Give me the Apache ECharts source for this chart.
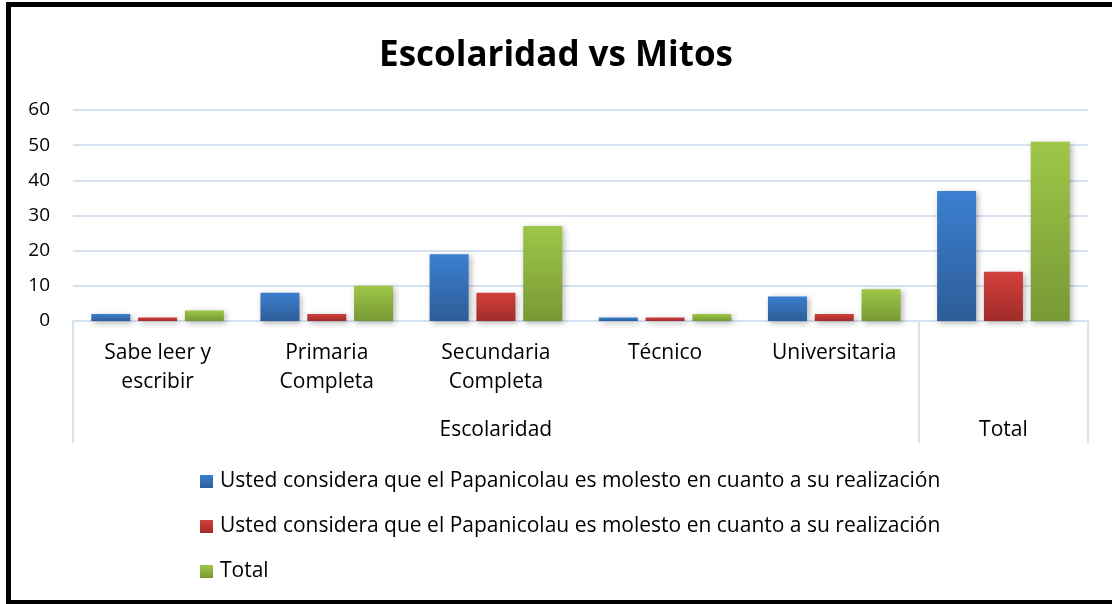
<!DOCTYPE html>
<html>
<head>
<meta charset="utf-8">
<script src="https://cdn.jsdelivr.net/npm/echarts@6/dist/echarts.min.js"></script>
<style>
  html, body { margin: 0; padding: 0; background: #fff; }
  #chart { width: 1112px; height: 604px; }
  .frame {
    position: absolute;
    left: 6px;
    top: 2px;
    width: 1130px;
    height: 602px;
    box-sizing: border-box;
    border: 5px solid #000;
    border-bottom-width: 4px;
    pointer-events: none;
  }
</style>
</head>
<body>
<div id="chart"></div>
<div class="frame"></div>
<script>
// datos
const categories = ['Sabe leer y\nescribir', 'Primaria\nCompleta', 'Secundaria\nCompleta', 'Técnico', 'Universitaria', '']
const groupLabels = ['', '', 'Escolaridad', '', '', 'Total']
const seriesNames = [
  'Usted considera que el Papanicolau es molesto en cuanto a su realización',
  'Usted considera que el Papanicolau es molesto en cuanto a su realización ', // espacio final: evita que la leyenda junte las dos series
  'Total'
]
const blueValues = [2, 8, 19, 1, 7, 37]
const redValues = [1, 2, 8, 1, 2, 14]
const greenValues = [3, 10, 27, 2, 9, 51]
const yTicks = [0, 10, 20, 30, 40, 50, 60]

const FONT = 'Open Sans'
const lineColor = '#d6e2f1'

function grad(top, bottom) {
  return new echarts.graphic.LinearGradient(0, 0, 0, 1, [
    { offset: 0, color: top },
    { offset: 1, color: bottom }
  ])
}

function barSeries(name, values, top, bottom) {
  return {
    name: name,
    type: 'bar',
    xAxisIndex: 0,
    barWidth: 39,
    barGap: '20%',
    data: values,
    itemStyle: {
      color: grad(top, bottom),
      shadowBlur: 6,
      shadowColor: 'rgba(0,0,0,0.3)',
      shadowOffsetX: 2,
      shadowOffsetY: 2
    }
  }
}

const chart = echarts.init(document.getElementById('chart'))
chart.setOption({
  animation: false,
  textStyle: { fontFamily: FONT },
  title: {
    text: 'Escolaridad vs Mitos',
    left: 'center',
    top: 31,
    textStyle: { fontFamily: FONT, fontSize: 35, fontWeight: 'bold', color: '#000', lineHeight: 40 }
  },
  legend: {
    orient: 'vertical',
    left: 200,
    top: 470,
    padding: 0,
    itemGap: 22,
    itemWidth: 13,
    itemHeight: 13,
    icon: 'rect',
    data: seriesNames,
    textStyle: { fontFamily: FONT, fontSize: 21, color: '#000', lineHeight: 23, padding: [0, 0, 0, 2] }
  },
  grid: { left: 73, right: 24, top: 110, bottom: 283, containLabel: false },
  xAxis: [
    {
      type: 'category',
      data: categories,
      axisLine: { lineStyle: { color: lineColor, width: 2 } },
      axisTick: {
        show: true,
        length: 122,
        interval: function (i) { return i === 0 || i === 5 },
        lineStyle: { color: lineColor, width: 2 }
      },
      axisLabel: { interval: 0, fontFamily: FONT, fontSize: 21, lineHeight: 29, color: '#000', margin: 18 }
    },
    {
      type: 'category',
      position: 'bottom',
      data: groupLabels,
      axisLine: { show: false },
      axisTick: { show: false },
      axisLabel: { interval: 0, fontFamily: FONT, fontSize: 21, lineHeight: 29, color: '#000', margin: 95 }
    }
  ],
  yAxis: {
    type: 'value',
    min: yTicks[0],
    max: yTicks[yTicks.length - 1],
    interval: 10,
    axisLine: { show: false },
    axisTick: { show: false },
    axisLabel: { fontFamily: FONT, fontSize: 19, color: '#000', margin: 23 },
    splitLine: { lineStyle: { color: lineColor, width: 2 } }
  },
  series: [
    barSeries(seriesNames[0], blueValues, '#3b7fd0', '#2d5d98'),
    barSeries(seriesNames[1], redValues, '#d2403c', '#a12c2a'),
    barSeries(seriesNames[2], greenValues, '#9ec748', '#779935')
  ]
})
</script>
</body>
</html>
